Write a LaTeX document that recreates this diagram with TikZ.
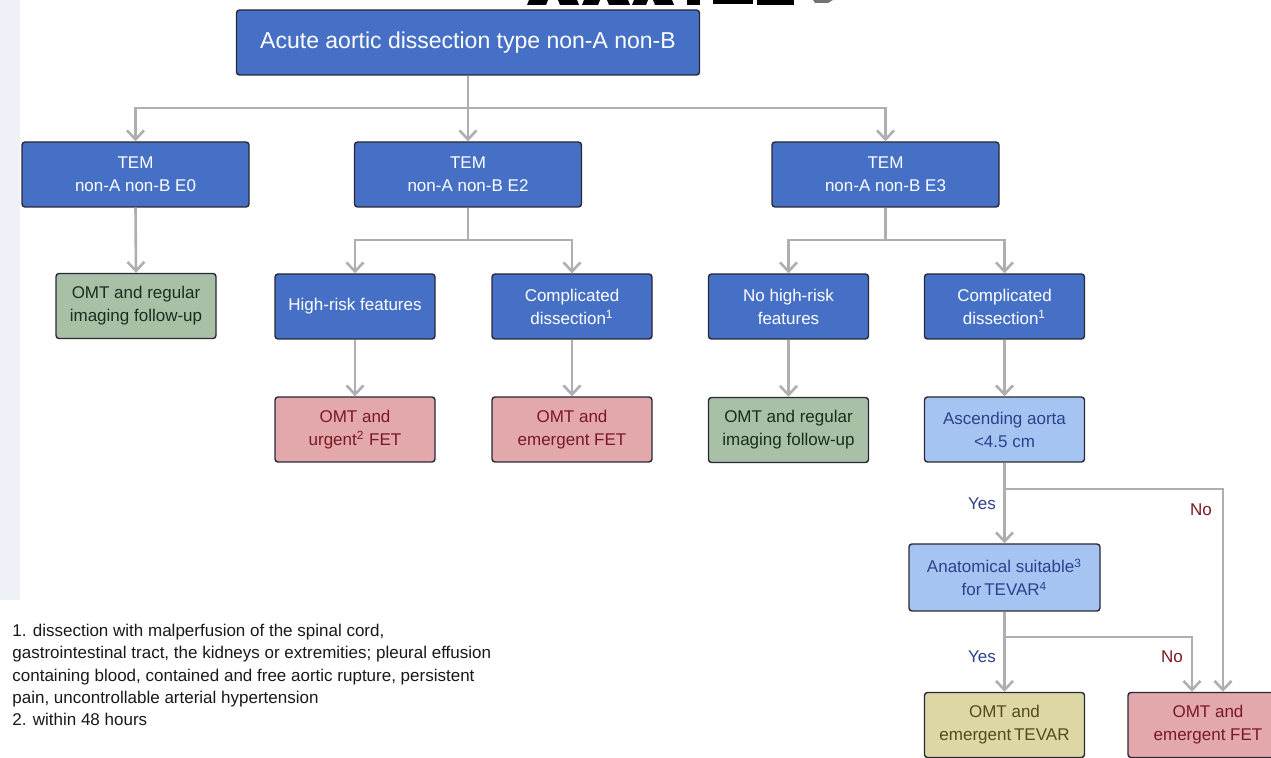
\documentclass[tikz,border=0pt]{standalone}
\usepackage{fontspec}
\setmainfont{Liberation Sans}
\usetikzlibrary{arrows.meta}
\definecolor{dblue}{RGB}{70,112,198}
\definecolor{lblue}{RGB}{166,196,242}
\definecolor{lbluetext}{RGB}{45,65,140}
\definecolor{gfill}{RGB}{168,192,166}
\definecolor{gtext}{RGB}{28,45,28}
\definecolor{pfill}{RGB}{226,168,172}
\definecolor{ptext}{RGB}{122,25,35}
\definecolor{kfill}{RGB}{221,215,166}
\definecolor{ktext}{RGB}{85,75,20}
\definecolor{bordc}{RGB}{40,40,55}
\definecolor{linegray}{RGB}{175,175,175}
\definecolor{bandc}{RGB}{238,242,248}
\definecolor{fntext}{RGB}{25,25,25}
\begin{document}
\begin{tikzpicture}[x=0.5pt,y=-0.5pt,
  box/.style={draw=bordc, line width=0.7pt, rounded corners=1.5pt, align=center, inner sep=0pt,
    font=\fontsize{8.5}{11.5}\selectfont},
  dark/.style={box, fill=dblue, text=white},
  light/.style={box, fill=lblue, text=lbluetext},
  green/.style={box, fill=gfill, text=gtext},
  pink/.style={box, fill=pfill, text=ptext},
  khaki/.style={box, fill=kfill, text=ktext},
  big/.style={minimum width=113.5pt, minimum height=32.5pt},
  small/.style={minimum width=80pt, minimum height=32.5pt},
  conn/.style={draw=linegray, line width=1.3pt},
  arr/.style={conn, -{Straight Barb[length=4.5pt,width=8.5pt]}},
  yeslab/.style={text=lbluetext, font=\fontsize{8.5}{10}\selectfont, inner sep=0pt},
  nolab/.style={text=ptext, font=\fontsize{8.5}{10}\selectfont, inner sep=0pt},
]
\useasboundingbox (0,0) rectangle (1271,758);
\clip (0,0) rectangle (1271,758);
\fill[white] (0,0) rectangle (1271,758);
\fill[bandc] (0,0) rectangle (20,600);

% cut-off black fragments at the top edge
\fill[black] (529,0) -- (548,0) -- (546,5) -- (527,5) -- cycle;
\fill[black] (558,0) -- (577,0) -- (579,5) -- (560,5) -- cycle;
\fill[black] (584,0) -- (600,0) -- (598,5) -- (582,5) -- cycle;
\fill[black] (607,0) -- (628,0) -- (630,5) -- (609,5) -- cycle;
\fill[black] (634,0) -- (648,0) -- (646,5) -- (632,5) -- cycle;
\fill[black] (653,0) -- (672,0) -- (674,5) -- (655,5) -- cycle;
\fill[black] (687,0) rectangle (700,5);
\fill[black] (713,0) rectangle (753,4);
\fill[black] (757,0) rectangle (794,5);
\fill[black!55] (813,0) -- (833,0) -- (828,3) -- (815,3) -- cycle;

% boxes
\node[dark, minimum width=231.5pt, minimum height=32.5pt, font=\fontsize{11.5}{14}\selectfont] (top) at (468,42.5) {Acute aortic dissection type non-A non-B};

\node[dark, big] (e0) at (135.5,174.5) {TEM\\non-A non-B E0};
\node[dark, big] (e2) at (468,174.5) {TEM\\non-A non-B E2};
\node[dark, big] (e3) at (885.5,174.5) {TEM\\non-A non-B E3};

\node[green, small] (omt0) at (136,306) {OMT and regular\\imaging follow-up};
\node[dark, small] (hr) at (355,306.5) {High-risk features};
\node[dark, small] (cd2) at (572,306.5) {Complicated\\dissection\textsuperscript{1}};
\node[dark, small] (nhr) at (788.5,306.5) {No high-risk\\features};
\node[dark, small] (cd3) at (1004.5,306.5) {Complicated\\dissection\textsuperscript{1}};

\node[pink, small] (urg) at (355,429.5) {OMT and\\urgent\textsuperscript{2} FET};
\node[pink, small] (em2) at (572,429.5) {OMT and\\emergent FET};
\node[green, small] (omt3) at (788.5,430) {OMT and regular\\imaging follow-up};
\node[light, small] (asc) at (1004.5,429.5) {Ascending aorta\\<4.5 cm};

\node[light, minimum width=95.5pt, minimum height=33.5pt] (anat) at (1004.5,577.5) {Anatomical suitable\textsuperscript{3}\\for\,TEVAR\textsuperscript{4}};

\node[khaki, small] (tevar) at (1004.5,725) {OMT and\\emergent\,TEVAR};
\node[pink, small] (fet) at (1208,725) {OMT and\\emergent FET};

% junctions
\coordinate (j1) at (468,108);
\coordinate (j2) at (468,240);
\coordinate (j3) at (885.5,240);
\coordinate (j4) at (1004.5,489);
\coordinate (n1) at (1223,489);
\coordinate (j5) at (1004.5,637);
\coordinate (n2) at (1192,637);

% connectors
\draw[conn] (top.south) -- (j1);
\draw[arr] (j1) -| (e0.north);
\draw[arr] (j1) -- (e2.north);
\draw[arr] (j1) -| (e3.north);

\draw[arr] (e0.south) -- (omt0.north);

\draw[conn] (e2.south) -- (j2);
\draw[arr] (j2) -| (hr.north);
\draw[arr] (j2) -| (cd2.north);
\draw[arr] (hr.south) -- (urg.north);
\draw[arr] (cd2.south) -- (em2.north);

\draw[conn] (e3.south) -- (j3);
\draw[arr] (j3) -| (nhr.north);
\draw[arr] (j3) -| (cd3.north);
\draw[arr] (nhr.south) -- (omt3.north);
\draw[arr] (cd3.south) -- (asc.north);

\draw[conn] (asc.south) -- (j4);
\draw[arr] (j4) -- (anat.north);
\draw[arr] (j4) -- (n1) -- (fet.north -| n1);

\draw[conn] (anat.south) -- (j5);
\draw[arr] (j5) -- (tevar.north);
\draw[arr] (j5) -- (n2) -- (fet.north -| n2);

% labels
\node[yeslab] (y1) at (982,504) {Yes};
\node[nolab] (no1) at (1201,510) {No};
\node[yeslab] (y2) at (982,657) {Yes};
\node[nolab] (no2) at (1172,657) {No};

% footnotes
\node[anchor=north west, align=left, inner sep=0pt, text=fntext,
  font=\fontsize{8.5}{11.1}\selectfont] (fn) at (12,624)
 {1. dissection with malperfusion of the spinal cord,\\
  gastrointestinal tract, the kidneys or extremities; pleural effusion\\
  containing blood, contained and free aortic rupture, persistent\\
  pain, uncontrollable arterial hypertension\\
  2. within 48 hours};
\end{tikzpicture}
\end{document}
